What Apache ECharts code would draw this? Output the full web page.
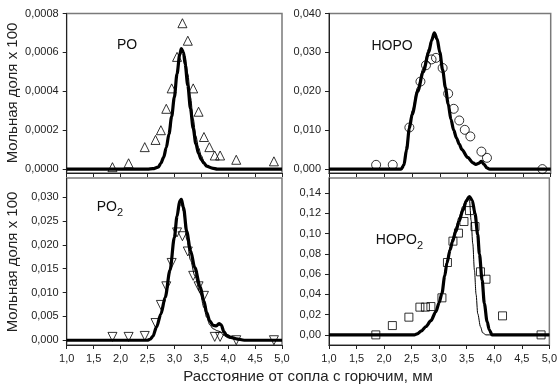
<!DOCTYPE html>
<html><head><meta charset="utf-8">
<script src="https://cdn.jsdelivr.net/npm/echarts@6/dist/echarts.min.js"></script>
<style>html,body{margin:0;padding:0;background:#fff}#c{width:560px;height:388px}</style>
</head><body><div id="c"></div>
<script>
// ---- tick labels ----
const xTicks = [1.0, 1.5, 2.0, 2.5, 3.0, 3.5, 4.0, 4.5, 5.0];
const yTicksPO = [0, 0.0002, 0.0004, 0.0006, 0.0008];
const yTicksHOPO = [0, 0.010, 0.020, 0.030, 0.040];
const yTicksPO2 = [0, 0.005, 0.010, 0.015, 0.020, 0.025, 0.030];
const yTicksHOPO2 = [0, 0.02, 0.04, 0.06, 0.08, 0.10, 0.12, 0.14];

// ---- experimental points ----
const expPO = [[1.85,0.00001],[2.15,0.00003],[2.45,0.000113],[2.65,0.00015],[2.75,0.0002],[2.85,0.00031],[2.95,0.000415],[3.05,0.000577],[3.15,0.00075],[3.25,0.00066],[3.35,0.000415],[3.45,0.000295],[3.55,0.000165],[3.65,0.000113],[3.75,0.00007],[3.85,0.00007],[4.15,0.000048],[4.85,0.00004]];
const expHOPO = [[1.85,0.0011],[2.15,0.0011],[2.45,0.0107],[2.65,0.0225],[2.75,0.0267],[2.85,0.0282],[2.93,0.0286],[3.05,0.026],[3.15,0.0194],[3.25,0.0155],[3.35,0.0125],[3.45,0.0101],[3.55,0.0084],[3.75,0.0045],[3.85,0.0029],[4.85,0.0]];
const expPO2 = [[1.85,0.0007],[2.15,0.0007],[2.45,0.0009],[2.65,0.0036],[2.75,0.0074],[2.85,0.0113],[2.95,0.0162],[3.05,0.0226],[3.15,0.0218],[3.25,0.0186],[3.35,0.0135],[3.45,0.0113],[3.55,0.0093],[3.75,0.0007],[3.85,0.0007],[4.15,0.0],[4.85,0.0]];
const expHOPO2 = [[1.85,0.0],[2.15,0.0092],[2.45,0.0175],[2.65,0.0274],[2.75,0.0274],[2.85,0.028],[3.05,0.0366],[3.15,0.0715],[3.25,0.0926],[3.35,0.1005],[3.45,0.112],[3.55,0.1228],[3.65,0.107],[3.75,0.0623],[3.85,0.055],[4.15,0.0188],[4.85,0.0]];

// ---- model curves (thick / thin) ----
const poThick = [[1,0],[2.5,0],[2.6,0.000002],[2.7,0.00001],[2.75,0.00003],[2.8,0.00006],[2.85,0.00011],[2.9,0.00018],[2.95,0.00027],[3.0,0.00037],[3.05,0.00049],[3.1,0.00059],[3.13,0.00062],[3.17,0.0006],[3.2,0.00054],[3.25,0.00043],[3.3,0.00031],[3.35,0.00021],[3.4,0.00013],[3.45,0.00008],[3.5,0.00005],[3.55,0.00003],[3.6,0.000015],[3.7,0.000005],[3.8,0],[5,0]];
const poThin = [[1,0],[2.5,0],[2.6,0.000002],[2.7,0.00001],[2.8,0.00006],[2.9,0.00017],[3.0,0.00036],[3.05,0.00048],[3.1,0.00058],[3.15,0.00061],[3.2,0.00058],[3.25,0.00049],[3.3,0.00037],[3.35,0.00026],[3.4,0.00017],[3.45,0.00011],[3.5,0.00007],[3.55,0.00004],[3.6,0.00002],[3.7,0.000007],[3.8,0.000002],[3.9,0],[5,0]];
const hopoThick = [[1,0],[2.3,0],[2.35,0.001],[2.4,0.005],[2.45,0.0105],[2.5,0.014],[2.6,0.02],[2.7,0.025],[2.8,0.03],[2.85,0.033],[2.9,0.035],[2.95,0.0335],[3.0,0.03],[3.05,0.0255],[3.1,0.021],[3.15,0.0168],[3.2,0.0128],[3.25,0.01],[3.3,0.0080],[3.35,0.0064],[3.4,0.005],[3.5,0.003],[3.6,0.0016],[3.65,0.0012],[3.7,0.0015],[3.75,0.002],[3.8,0.0012],[3.85,0.0003],[3.9,0],[5,0]];
const hopoThin = [[1,0],[2.3,0],[2.35,0.0015],[2.4,0.006],[2.45,0.0115],[2.5,0.015],[2.6,0.021],[2.7,0.026],[2.8,0.031],[2.85,0.0335],[2.88,0.0345],[2.95,0.033],[3.0,0.0295],[3.05,0.025],[3.1,0.0205],[3.15,0.0165],[3.2,0.0125],[3.25,0.0098],[3.3,0.0078],[3.35,0.0062],[3.4,0.0048],[3.5,0.0028],[3.6,0.0015],[3.65,0.0011],[3.7,0.0013],[3.75,0.0017],[3.8,0.001],[3.85,0.0002],[3.9,0],[5,0]];
const po2Thick = [[1,0],[2.5,0],[2.55,0.0002],[2.6,0.0008],[2.67,0.0028],[2.75,0.0055],[2.83,0.009],[2.92,0.0147],[3.0,0.0215],[3.05,0.026],[3.1,0.0292],[3.13,0.0295],[3.17,0.0278],[3.23,0.0228],[3.3,0.0188],[3.38,0.0152],[3.48,0.0112],[3.55,0.0082],[3.6,0.0058],[3.66,0.004],[3.72,0.0031],[3.78,0.003],[3.83,0.0035],[3.87,0.0032],[3.92,0.0018],[3.97,0.001],[4.05,0.0006],[4.15,0.0003],[4.3,0],[5,0]];
const po2Thin = [[1,0],[2.5,0],[2.55,0.0002],[2.6,0.0008],[2.67,0.0028],[2.75,0.0056],[2.83,0.0092],[2.92,0.015],[3.0,0.0218],[3.05,0.0258],[3.1,0.0282],[3.13,0.0285],[3.17,0.027],[3.23,0.0212],[3.3,0.0168],[3.38,0.0135],[3.48,0.0098],[3.55,0.0068],[3.6,0.0048],[3.66,0.0032],[3.72,0.0024],[3.8,0.002],[3.85,0.0018],[3.92,0.001],[4.0,0.0005],[4.15,0.0002],[4.3,0],[5,0]];
const hopo2Thick = [[1,0],[2.55,0],[2.6,0.001],[2.68,0.004],[2.76,0.0083],[2.85,0.014],[2.94,0.023],[3.0,0.032],[3.05,0.041],[3.1,0.058],[3.14,0.071],[3.2,0.084],[3.24,0.092],[3.3,0.102],[3.36,0.112],[3.43,0.123],[3.49,0.132],[3.55,0.1367],[3.6,0.133],[3.65,0.12],[3.7,0.099],[3.73,0.08],[3.78,0.054],[3.82,0.031],[3.87,0.013],[3.91,0.005],[3.96,0],[5,0]];
const hopo2Thin = [[1,0],[2.55,0],[2.6,0.001],[2.68,0.004],[2.76,0.0083],[2.85,0.014],[2.94,0.023],[3.0,0.033],[3.05,0.043],[3.1,0.06],[3.14,0.073],[3.2,0.087],[3.24,0.095],[3.3,0.106],[3.36,0.116],[3.43,0.127],[3.49,0.134],[3.52,0.1365],[3.55,0.133],[3.58,0.113],[3.61,0.09],[3.64,0.064],[3.67,0.04],[3.7,0.021],[3.75,0.008],[3.79,0.002],[3.85,0],[5,0]];

// ---- text ----
const yTitle = 'Мольная доля х 100';
const xTitle = 'Расстояние от сопла с горючим, мм';

const FONT = '"Liberation Sans", Arial, sans-serif';
const chart = echarts.init(document.getElementById('c'), null, {renderer: 'canvas'});

const grids = [
  {left: 66.7, top: 13.5, width: 215.3, height: 159.5},
  {left: 329, top: 13.5, width: 221.7, height: 159.5},
  {left: 66.7, top: 178, width: 215.3, height: 167},
  {left: 329, top: 178, width: 221.7, height: 167}
].map(g => Object.assign({show: true, borderColor: '#7a7a7a', borderWidth: 1.5, backgroundColor: 'transparent'}, g));

function fmtComma(d) { return v => Number(v).toFixed(d).replace('.', ','); }

function xAx(i, showLabels) {
  return {
    type: 'value', gridIndex: i, min: 1, max: 5, interval: 0.5,
    axisLine: {onZero: false, lineStyle: {color: '#222', width: 1}},
    axisTick: {show: true, length: 4, inside: false, lineStyle: {color: '#222'}, customValues: xTicks},
    axisLabel: {show: showLabels, customValues: xTicks, formatter: fmtComma(1), color: '#222', fontSize: 11, fontFamily: FONT, margin: 8},
    splitLine: {show: false}
  };
}
function yAx(i, min, max, ticks, d) {
  return {
    type: 'value', gridIndex: i, min: min, max: max,
    axisLine: {show: true, onZero: false, lineStyle: {color: '#222', width: 1}},
    axisTick: {show: true, length: 4, lineStyle: {color: '#222'}, customValues: ticks},
    axisLabel: {customValues: ticks, formatter: fmtComma(d), color: '#222', fontSize: 11, fontFamily: FONT, margin: 8},
    splitLine: {show: false}
  };
}

function scat(i, data, symbol, size, rot) {
  return {type: 'scatter', xAxisIndex: i, yAxisIndex: i, data: data, symbol: symbol, symbolSize: size, symbolRotate: rot || 0,
    itemStyle: {color: 'rgba(255,255,255,0)', borderColor: '#000', borderWidth: 1}, z: 2, silent: true};
}
function line(i, data, w) {
  return {type: 'line', xAxisIndex: i, yAxisIndex: i, data: data, showSymbol: false, smooth: 0.3, smoothMonotone: 'x',
    lineStyle: {color: '#000', width: w}, z: w > 2 ? 3 : 4, silent: true};
}

const option = {
  animation: false,
  backgroundColor: '#fff',
  grid: grids,
  xAxis: [xAx(0, false), xAx(1, false), xAx(2, true), xAx(3, true)],
  yAxis: [
    yAx(0, -0.00002, 0.0008, yTicksPO, 4),
    yAx(1, -0.001, 0.040, yTicksHOPO, 3),
    yAx(2, -0.001, 0.034, yTicksPO2, 3),
    yAx(3, -0.01, 0.155, yTicksHOPO2, 2)
  ],
  series: [
    scat(0, expPO, 'triangle', 9),
    line(0, poThick, 3.2), line(0, poThin, 1),
    scat(1, expHOPO, 'circle', 9),
    line(1, hopoThick, 3.2), line(1, hopoThin, 1),
    scat(2, expPO2, 'triangle', 9, 180),
    line(2, po2Thick, 3.2), line(2, po2Thin, 1),
    scat(3, expHOPO2, 'rect', 8),
    line(3, hopo2Thick, 3.2), line(3, hopo2Thin, 1)
  ],
  graphic: [
    {type: 'text', x: 13, y: 93, rotation: Math.PI / 2, style: {text: yTitle, fontSize: 15, fontFamily: FONT, fill: '#222', align: 'center', verticalAlign: 'middle'}},
    {type: 'text', x: 13, y: 262, rotation: Math.PI / 2, style: {text: yTitle, fontSize: 15, fontFamily: FONT, fill: '#222', align: 'center', verticalAlign: 'middle'}},
    {type: 'text', x: 308, y: 377, style: {text: xTitle, fontSize: 15, fontFamily: FONT, fill: '#222', align: 'center', verticalAlign: 'middle'}},
    {type: 'text', x: 127, y: 45, style: {text: 'PO', fontSize: 14, fontFamily: FONT, fill: '#111', align: 'center', verticalAlign: 'middle'}},
    {type: 'text', x: 392, y: 46, style: {text: 'HOPO', fontSize: 14, fontFamily: FONT, fill: '#111', align: 'center', verticalAlign: 'middle'}},
    {type: 'text', x: 117, y: 207, style: {text: 'PO', fontSize: 14, fontFamily: FONT, fill: '#111', align: 'right', verticalAlign: 'middle'}},
    {type: 'text', x: 117, y: 213, style: {text: '2', fontSize: 11, fontFamily: FONT, fill: '#111', align: 'left', verticalAlign: 'middle'}},
    {type: 'text', x: 417, y: 240, style: {text: 'HOPO', fontSize: 14, fontFamily: FONT, fill: '#111', align: 'right', verticalAlign: 'middle'}},
    {type: 'text', x: 417, y: 246, style: {text: '2', fontSize: 11, fontFamily: FONT, fill: '#111', align: 'left', verticalAlign: 'middle'}}
  ]
};
chart.setOption(option);
</script>
</body></html>
